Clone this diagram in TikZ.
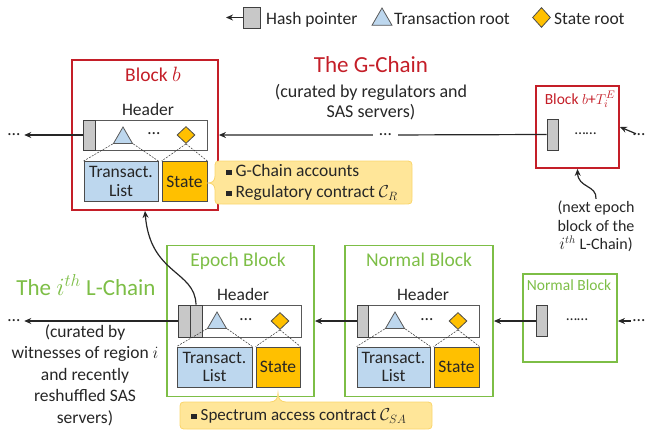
\documentclass[tikz,border=0pt]{standalone}
\usepackage{fontspec}
\setmainfont{Carlito}
\usepackage{tikz}
\usetikzlibrary{shapes.geometric,arrows.meta}
\definecolor{gred}{RGB}{196,30,40}
\definecolor{lgreen}{RGB}{125,190,70}
\definecolor{lblue}{RGB}{189,215,238}
\definecolor{sgold}{RGB}{255,192,0}
\definecolor{ptrgray}{RGB}{200,200,200}
\definecolor{callfill}{RGB}{255,230,153}
\definecolor{calldraw}{RGB}{250,214,110}
\newcommand{\fsz}[2]{\fontsize{#1}{#2}\selectfont}
\newcommand{\bul}{\rule[1.5pt]{5.5pt}{5.5pt}\hspace{4pt}}

\begin{document}
\begin{tikzpicture}[x=1pt, y=-1pt,
	every node/.style={text=black!85, font=\fsz{17.5}{21}},
	gblk/.style={draw=gred, line width=1.8pt, inner sep=0},
	lblk/.style={draw=lgreen, line width=1.8pt, inner sep=0},
	hbar/.style={draw=black!65, fill=white, line width=0.9pt, inner sep=0, minimum height=32pt},
	hptr/.style={draw=black!75, fill=ptrgray, line width=0.9pt, inner sep=0, minimum width=12pt, minimum height=32pt},
	troot/.style={regular polygon, regular polygon sides=3, draw=black!65, fill=lblue, line width=0.8pt, inner sep=0, minimum size=22pt},
	sroot/.style={diamond, draw=black!70, fill=sgold, line width=0.8pt, inner sep=0, minimum width=18pt, minimum height=17pt},
	tlist/.style={draw=black!70, fill=lblue, line width=0.9pt, align=center, inner sep=0, minimum height=40pt, font=\fsz{17.5}{18.5}},
	sbox/.style={draw=black!70, fill=sgold, line width=0.9pt, inner sep=0, minimum width=45pt, minimum height=40pt},
	tdash/.style={draw=black!80, line width=0.5pt, dash pattern=on 2pt off 1.2pt},
	parrow/.style={draw=black!85, line width=1.2pt, -{Stealth[length=7pt,width=6pt]}},
	dotsnode/.style={inner xsep=2pt, inner ysep=0},
	callout/.style={draw=calldraw, fill=callfill, line width=0.8pt}]
	%%%%% START %%%%%
	\useasboundingbox (0,0) rectangle (647,431);
	
	% legend
	\node[hptr, minimum width=17pt, minimum height=21pt] (lgptr) at (251.5,17.5) {};
	\coordinate (lgend) at (226,17.5);
	\draw[parrow] (lgptr.west) -- (lgend);
	\node[anchor=base west, inner sep=0] (lgtxt1) at (266,24) {Hash pointer};
	\node[troot, minimum size=23pt] (lgtri) at (382,19.5) {};
	\node[anchor=base west, inner sep=0] (lgtxt2) at (394,24) {Transaction root};
	\node[sroot, minimum width=18pt, minimum height=20pt] (lgdia) at (541.5,17.5) {};
	\node[anchor=base west, inner sep=0] (lgtxt3) at (554,24) {State root};
	
	% the G-Chain
	\node[font=\fsz{23}{27}, text=gred] (gtitle) at (371,65) {The G-Chain};
	\node[align=center, font=\fsz{18}{20}] (gnote) at (371,102) {(curated by regulators and\\SAS servers)};
	
	\node[gblk, minimum width=146pt, minimum height=150pt] (blkb) at (145,135) {};
	\node[font=\fsz{19.5}{23}, text=gred] (blkbl) at (153,74) {Block $b$};
	\node (hdrb) at (148,109) {Header};
	\node[hbar, minimum width=124pt, minimum height=30pt] (barb) at (145,135) {};
	\node[hptr, minimum height=30pt] (ptrb) at (89,135) {};
	\node[troot] (trib) at (123,138) {};
	\node[inner sep=0] (dotb) at (154,134) {\dots};
	\node[sroot] (diab) at (186,135) {};
	\node[tlist, minimum width=74pt] (tlb) at (121,181.5) {Transact.\\List};
	\node[sbox] (stb) at (184.5,181.5) {State};
	\draw[tdash] (trib.corner 2) -- (tlb.north west);
	\draw[tdash] (trib.corner 3) -- (tlb.north east);
	\draw[tdash] (diab.south) -- (stb.north west);
	\draw[tdash] (diab.south) -- (stb.north east);
	
	\node[gblk, minimum width=83pt, minimum height=82pt] (blkT) at (577.5,127) {};
	\node[anchor=base, font=\fsz{15.5}{18}, text=gred] (blkTl) at (580,104) {Block $b$+$T_i^E$};
	\node[hptr, minimum width=11pt, minimum height=31pt] (ptrT) at (552.5,134.5) {};
	\node[inner sep=0, font=\fsz{15.5}{18}] (dotT) at (585.5,134) {\dots\dots};
	
	\node[dotsnode, minimum width=25pt] (gdots) at (385.5,135) {\dots};
	\node[dotsnode, inner xsep=4pt] (ldotsg) at (14,135) {\dots};
	\node[dotsnode] (rdotsg) at (639,135) {\dots};
	\draw[parrow] (ptrT.west) -- (gdots) -- (blkb.east);
	\draw[parrow] (ptrb.west) -- (ldotsg);
	\draw[parrow] (rdotsg) -- (blkT.east);
	
	\node[align=center, inner sep=2pt, font=\fsz{16}{18.5}] (nxtnote) at (596,226.5) {(next epoch\\block of the\\$i^{th}$ L-Chain)};
	\draw[parrow] (nxtnote.north) .. controls (597,185) and (578,188) .. (blkT.south);
	
	% the i-th L-Chain
	\node[font=\fsz{23}{27}, text=lgreen] (ltitle) at (86,285) {The $i^{th}$ L-Chain};
	\node[align=center, font=\fsz{17.5}{21.5}] (lnote) at (85,375) {(curated by\\witnesses of region $i$\\and recently\\reshuffled SAS\\servers)};
	
	\node[lblk, minimum width=147pt, minimum height=151pt] (blke) at (240.5,321) {};
	\node[font=\fsz{19.5}{23}, text=lgreen] (blkel) at (238,261) {Epoch Block};
	\node (hdre) at (243,294) {Header};
	\node[hbar, minimum width=123pt] (bare) at (239.5,321) {};
	\node[hptr] (ptre1) at (184,321) {};
	\node[hptr] (ptre2) at (196,321) {};
	\node[troot] (trie) at (217,323) {};
	\node[inner sep=0] (dote) at (246,320) {\dots};
	\node[sroot] (diae) at (280,321) {};
	\node[tlist, minimum width=75pt] (tle) at (214.5,367) {Transact.\\List};
	\node[sbox, minimum width=44pt] (ste) at (278,367) {State};
	\draw[tdash] (trie.corner 2) -- (tle.north west);
	\draw[tdash] (trie.corner 3) -- (tle.north east);
	\draw[tdash] (diae.south) -- (ste.north west);
	\draw[tdash] (diae.south) -- (ste.north east);
	
	\node[lblk, minimum width=148pt, minimum height=151pt] (blkn) at (419,321) {};
	\node[font=\fsz{19.5}{23}, text=lgreen] (blknl) at (419,260) {Normal Block};
	\node (hdrn) at (423,294) {Header};
	\node[hbar, minimum width=122pt] (barn) at (418,321) {};
	\node[hptr, minimum width=11pt] (ptrn) at (362.5,321) {};
	\node[troot] (trin) at (395,323) {};
	\node[inner sep=0] (dotn) at (427,320) {\dots};
	\node[sroot] (dian) at (458,321) {};
	\node[tlist, minimum width=73pt] (tln) at (393.5,367) {Transact.\\List};
	\node[sbox] (stn) at (456.5,367) {State};
	\draw[tdash] (trin.corner 2) -- (tln.north west);
	\draw[tdash] (trin.corner 3) -- (tln.north east);
	\draw[tdash] (dian.south) -- (stn.north west);
	\draw[tdash] (dian.south) -- (stn.north east);
	
	\node[lblk, minimum width=94pt, minimum height=88pt] (blks) at (570,318) {};
	\node[font=\fsz{15.5}{18}, text=lgreen] (blksl) at (569,285) {Normal Block};
	\node[hptr, minimum width=11pt, minimum height=31pt] (ptrs) at (541.5,321) {};
	\node[inner sep=0, font=\fsz{15.5}{18}] (dots) at (577,320) {\dots\dots};
	
	\node[dotsnode, inner xsep=4pt] (ldotsl) at (14,321) {\dots};
	\node[dotsnode] (rdotsl) at (639,321) {\dots};
	\draw[parrow] (ptrs.west) -- (blkn.east);
	\draw[parrow] (ptrn.west) -- (blke.east);
	\draw[parrow] (ptre1.west) -- (ldotsl);
	\draw[parrow] (rdotsl) -- (blks.east |- rdotsl);
	\draw[parrow] (ptre2.north) .. controls (195,270) and (150,275) .. (blkb.south);
	
	% callouts
	\draw[callout] (215,176) -- (215,169) .. controls (215,161) .. (223,161) -- (404,161)
		.. controls (412,161) .. (412,169) -- (412,196) .. controls (412,204) .. (404,204)
		-- (223,204) .. controls (215,204) .. (215,196) -- (215,190)
		.. controls (215,185) and (212,183) .. (208,183) .. controls (212,183) and (215,181) .. cycle;
	\node[anchor=west, align=left, inner sep=0, font=\fsz{17.5}{21}] (calg) at (226,182.5) {\bul G-Chain accounts\\\bul Regulatory contract $\mathcal{C}_R$};
	
	\draw[callout] (180,410) .. controls (180,402) .. (188,402) -- (270,402)
		.. controls (276,402) and (278,398) .. (278,393) .. controls (278,398) and (280,402) .. (286,402)
		-- (424,402) .. controls (432,402) .. (432,410) -- (432,421) .. controls (432,429) .. (424,429)
		-- (188,429) .. controls (180,429) .. (180,421) -- cycle;
	\node[anchor=west, inner sep=0, font=\fsz{17}{21}] (calsa) at (191,416) {\bul Spectrum access contract $\mathcal{C}_{SA}$};
	
	%%%%% END %%%%%
\end{tikzpicture}
\end{document}
